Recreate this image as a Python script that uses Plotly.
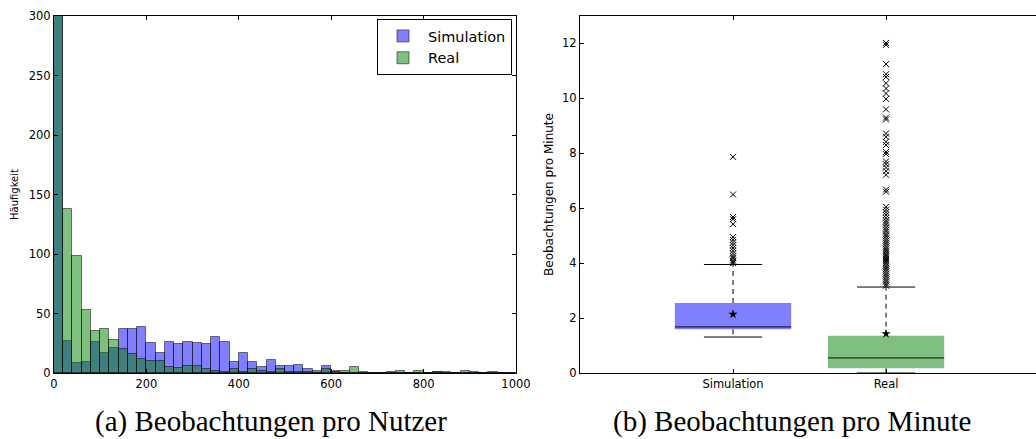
import plotly.graph_objects as go

# ---------------- data: histogram (a) ----------------
bin_edges = [i * 20 for i in range(51)]  # 0..1000, width 20
sim_counts = [310, 27, 8, 9, 26, 17, 21, 37, 37, 39,
              25, 17, 26, 24, 26, 25, 24, 30, 26, 9,
              17, 9, 5, 11, 6, 6, 7, 3, 2, 6,
              2, 0, 0, 0, 0, 0, 0, 0, 0, 0,
              0, 1, 0, 0, 0, 0, 0, 0, 0, 0]
real_counts = [330, 138, 98, 53, 35, 37, 28, 20, 16, 12,
               10, 10, 5, 4, 6, 6, 3, 2, 1, 3,
               1, 3, 2, 1, 3, 1, 1, 1, 0, 3,
               1, 2, 5, 1, 0, 0, 1, 2, 0, 2,
               0, 1, 1, 0, 2, 1, 0, 1, 0, 0]
hist_labels = ["Simulation", "Real"]

# ---------------- data: boxplot (b) ----------------
box_labels = ["Simulation", "Real"]
box_positions = [1, 2]
box_q1 = [1.59, 0.17]
box_median = [1.68, 0.55]
box_q3 = [2.55, 1.36]
box_lower_whisker = [1.31, 0.0]
box_upper_whisker = [3.95, 3.13]
box_mean = [2.14, 1.43]
sim_outliers = [7.87, 6.5, 5.68, 5.6, 5.42, 4.95, 4.85, 4.75, 4.65, 4.55,
                4.45, 4.35, 4.25, 4.18, 4.1, 4.05, 4.0]
real_outliers = [12.02, 11.95, 11.25, 10.88, 10.78, 10.55, 10.36, 10.18, 9.98,
                 9.6, 9.3, 9.23, 8.72, 8.6, 8.42, 8.3, 8.05, 7.97, 7.7, 7.6,
                 7.48, 7.35, 7.22, 6.68, 6.6, 6.05, 5.95, 5.85, 5.75, 5.65,
                 5.55, 5.48, 5.4, 5.3, 5.22, 5.15, 5.05, 4.98, 4.9, 4.82,
                 4.75, 4.68, 4.6, 4.52, 4.45, 4.38, 4.3, 4.22, 4.15, 4.08,
                 4.0, 3.92, 3.85, 3.78, 3.7, 3.62, 3.55, 3.48, 3.4, 3.33,
                 3.25, 3.18]
box_outliers = [sim_outliers, real_outliers]

caption_a = "(a) Beobachtungen pro Nutzer"
caption_b = "(b) Beobachtungen pro Minute"

# ---------------- styles ----------------
FILL = ["rgba(0,0,255,0.5)", "rgba(0,128,0,0.5)"]
EDGE = "rgba(0,0,0,0.5)"
TICKFONT = dict(family="DejaVu Sans", size=11.5, color="black")
BOX_HALF = 0.38
CAP_HALF = 0.19

W, H = 1036, 439
def px_x(p):
    return p / W
def px_y(p):
    return 1 - p / H

fig = go.Figure()

# histogram bars
centers = [(bin_edges[i] + bin_edges[i + 1]) / 2 for i in range(len(bin_edges) - 1)]
widths = [bin_edges[i + 1] - bin_edges[i] for i in range(len(bin_edges) - 1)]
for name, counts, col in zip(hist_labels, [sim_counts, real_counts], FILL):
    fig.add_trace(go.Bar(
        x=centers, y=counts, width=widths, name=name,
        marker=dict(color=col, line=dict(color=EDGE, width=1)),
        xaxis="x", yaxis="y", showlegend=True,
    ))

# boxplots
for i, pos in enumerate(box_positions):
    x0, x1 = pos - BOX_HALF, pos + BOX_HALF
    fig.add_trace(go.Scatter(
        x=[x0, x1, x1, x0, x0],
        y=[box_q1[i], box_q1[i], box_q3[i], box_q3[i], box_q1[i]],
        fill="toself", fillcolor=FILL[i], mode="lines",
        line=dict(width=0, color=FILL[i]),
        xaxis="x2", yaxis="y2", showlegend=False, hoverinfo="skip",
    ))
    fig.add_trace(go.Scatter(
        x=[pos, pos, None, pos, pos],
        y=[box_q3[i], box_upper_whisker[i], None, box_q1[i], box_lower_whisker[i]],
        mode="lines", line=dict(color="black", width=1, dash="5px,4px"),
        xaxis="x2", yaxis="y2", showlegend=False, hoverinfo="skip",
    ))
    fig.add_trace(go.Scatter(
        x=[pos - CAP_HALF, pos + CAP_HALF, None, pos - CAP_HALF, pos + CAP_HALF],
        y=[box_upper_whisker[i], box_upper_whisker[i], None,
           box_lower_whisker[i], box_lower_whisker[i]],
        mode="lines", line=dict(color="black", width=1),
        xaxis="x2", yaxis="y2", showlegend=False, hoverinfo="skip",
    ))
    fig.add_trace(go.Scatter(
        x=[x0, x1], y=[box_median[i], box_median[i]],
        mode="lines", line=dict(color="rgba(0,0,0,0.75)", width=1.2),
        xaxis="x2", yaxis="y2", showlegend=False, hoverinfo="skip",
    ))
    fig.add_trace(go.Scatter(
        x=[pos] * len(box_outliers[i]), y=box_outliers[i],
        mode="markers",
        marker=dict(symbol="x-thin", size=6, line=dict(color="black", width=1)),
        xaxis="x2", yaxis="y2", showlegend=False, hoverinfo="skip",
    ))
    fig.add_trace(go.Scatter(
        x=[pos], y=[box_mean[i]], mode="markers",
        marker=dict(symbol="star", size=7, color="black"),
        xaxis="x2", yaxis="y2", showlegend=False, hoverinfo="skip",
    ))

ydom = [px_y(373), px_y(16)]
common = dict(ticks="inside", ticklen=4, tickcolor="black", showline=True,
              linecolor="black", linewidth=1, showgrid=False, zeroline=False,
              tickfont=TICKFONT, automargin=False)

fig.update_layout(
    width=W, height=H,
    margin=dict(l=0, r=0, t=0, b=0, autoexpand=False),
    paper_bgcolor="white", plot_bgcolor="white",
    barmode="overlay", bargap=0,
    font=dict(family="DejaVu Sans", color="black"),
    xaxis=dict(domain=[px_x(54), px_x(516)], range=[0, 1000],
               tickvals=[0, 200, 400, 600, 800, 1000], mirror="ticks", **common),
    yaxis=dict(domain=ydom, range=[0, 300],
               tickvals=[0, 50, 100, 150, 200, 250, 300], mirror="ticks",
               title=dict(text="Häufigkeit", font=dict(size=10), standoff=8), **common),
    xaxis2=dict(domain=[px_x(580), 1.0], range=[0, 2.98], anchor="y2",
                tickvals=box_positions, ticktext=box_labels, mirror="ticks", **common),
    yaxis2=dict(domain=ydom, range=[0, 13], anchor="x2",
                tickvals=[0, 2, 4, 6, 8, 10, 12], mirror=False,
                title=dict(text="Beobachtungen pro Minute", font=dict(size=12), standoff=5),
                **common),
    legend=dict(x=px_x(512), y=px_y(19), xanchor="right", yanchor="top",
                bgcolor="white", bordercolor="black", borderwidth=1,
                font=dict(family="DejaVu Sans", size=14.5, color="black"),
                itemwidth=40, tracegroupgap=2),
    annotations=[
        dict(text=caption_a, x=px_x(270.5), y=px_y(421), xref="paper", yref="paper",
             showarrow=False, xanchor="center", yanchor="middle",
             font=dict(family="Liberation Serif", size=29, color="black")),
        dict(text=caption_b, x=px_x(792), y=px_y(421), xref="paper", yref="paper",
             showarrow=False, xanchor="center", yanchor="middle",
             font=dict(family="Liberation Serif", size=29, color="black")),
    ],
)

fig.write_html("out.html")
